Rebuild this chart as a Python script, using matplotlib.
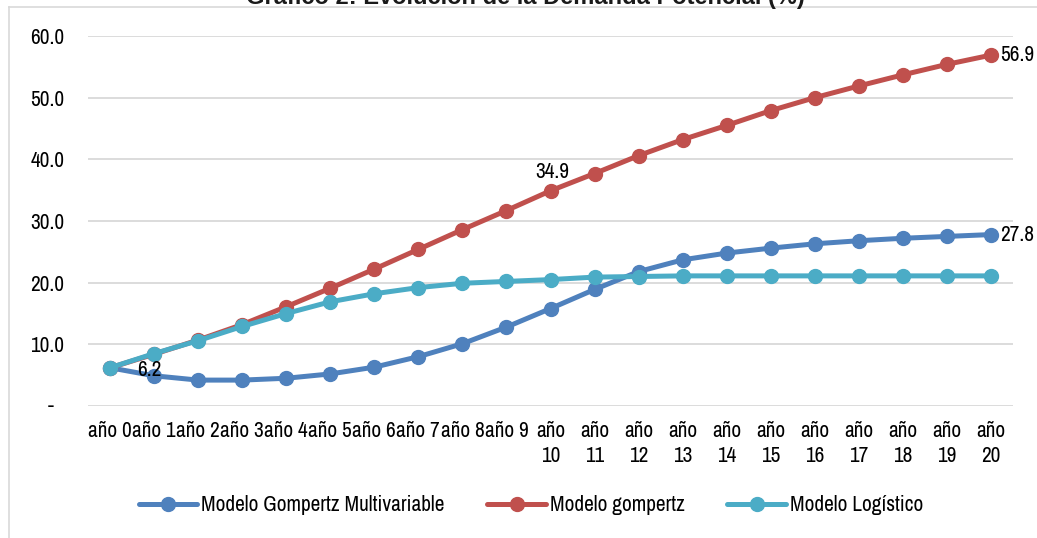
"""Evolución de la demanda potencial (%) para tres modelos de difusión."""
import matplotlib.pyplot as plt
from matplotlib.lines import Line2D

W, H = 1037, 538
FONT = ["Archivo Narrow", "Liberation Sans", "DejaVu Sans"]
plt.rcParams["font.family"] = FONT

TITLE = "Gráfico 2: Evolución de la Demanda Potencial (%)"
YEARS = [f"año {i}" for i in range(10)] + [f"año\n{i}" for i in range(10, 21)]

gompertz_multi = [6.2, 4.9, 4.2, 4.2, 4.5, 5.2, 6.3, 8.0, 10.1, 12.8, 15.8,
                  18.9, 21.8, 23.7, 24.8, 25.6, 26.3, 26.8, 27.2, 27.5, 27.8]
gompertz = [6.2, 8.4, 10.7, 13.2, 16.1, 19.1, 22.2, 25.4, 28.6, 31.7, 34.9,
            37.7, 40.6, 43.2, 45.5, 47.9, 50.0, 51.9, 53.7, 55.4, 56.9]
logistico = [6.2, 8.5, 10.6, 12.9, 15.0, 16.9, 18.2, 19.2, 19.9, 20.2, 20.5,
             20.9, 21.0, 21.1, 21.1, 21.1, 21.1, 21.1, 21.1, 21.1, 21.1]

SERIES = [
    ("Modelo Gompertz Multivariable", gompertz_multi, "#4F81BD"),
    ("Modelo gompertz", gompertz, "#C0504D"),
    ("Modelo Logístico", logistico, "#4BACC6"),
]

FS = 15.3
GRID = "#D9D9D9"


def px(x0, y0, x1, y1):
    """Pixel box (top-left origin) -> figure fraction rect."""
    return [x0 / W, 1 - y1 / H, (x1 - x0) / W, (y1 - y0) / H]


fig = plt.figure(figsize=(W / 100, H / 100), dpi=100, facecolor="white")

# chart-area frame (only its top-left corner falls inside the image)
fig.add_artist(Line2D([9 / W, 9 / W], [0, 1 - 7 / H], color=GRID, lw=1.2))
fig.add_artist(Line2D([9 / W, 1], [1 - 7 / H, 1 - 7 / H], color=GRID, lw=1.2))
fig.text(525 / W, 1 - 4 / H, TITLE, ha="center", va="baseline",
         fontsize=17, fontweight="bold", color="#1a1a1a",
         family=["Liberation Sans", "DejaVu Sans"])

ax = fig.add_axes(px(88, 36, 1013, 406))
x = list(range(len(YEARS)))
for name, vals, col in SERIES:
    ax.plot(x, vals, color=col, lw=3.6, marker="o", ms=10, label=name,
            solid_capstyle="round", clip_on=False, zorder=3)

ax.set_xlim(-0.5, len(YEARS) - 0.5)
ax.set_ylim(0, 60)
ax.set_yticks(range(0, 61, 10))
ax.set_yticklabels([""] + [f"{v:.1f}" for v in range(10, 61, 10)])
ax.set_xticks(x)
ax.set_xticklabels(YEARS, linespacing=1.3)
ax.tick_params(axis="both", length=0, labelsize=FS, colors="black")
ax.tick_params(axis="y", pad=17)
ax.tick_params(axis="x", pad=11)
ax.grid(axis="y", color=GRID, lw=1.3)
ax.set_axisbelow(True)
for s in ax.spines.values():
    s.set_visible(False)
ax.annotate("-", xy=(0, 0), xycoords=("axes fraction", "data"),
            xytext=(-34, 0), textcoords="offset pixels",
            ha="right", va="center", fontsize=FS)

# data labels
ax.annotate(f"{gompertz_multi[0]:.1f}", xy=(0, gompertz_multi[0]),
            xytext=(27, -2), textcoords="offset pixels",
            ha="left", va="center", fontsize=FS)
ax.annotate(f"{gompertz[10]:.1f}", xy=(10, gompertz[10]),
            xytext=(2, 19), textcoords="offset pixels",
            ha="center", va="center", fontsize=FS)
ax.annotate(f"{gompertz[-1]:.1f}", xy=(20, gompertz[-1]),
            xytext=(9, 0), textcoords="offset pixels",
            ha="left", va="center", fontsize=FS, annotation_clip=False)
ax.annotate(f"{gompertz_multi[-1]:.1f}", xy=(20, gompertz_multi[-1]),
            xytext=(9, 0), textcoords="offset pixels",
            ha="left", va="center", fontsize=FS, annotation_clip=False)

fig.legend(loc="center", bbox_to_anchor=(531 / W, 1 - 505 / H), ncol=3,
           frameon=False, fontsize=FS, handlelength=2.75, handletextpad=0.2,
           columnspacing=2.0, numpoints=1)

fig.savefig("out.png", dpi=100, facecolor="white")
